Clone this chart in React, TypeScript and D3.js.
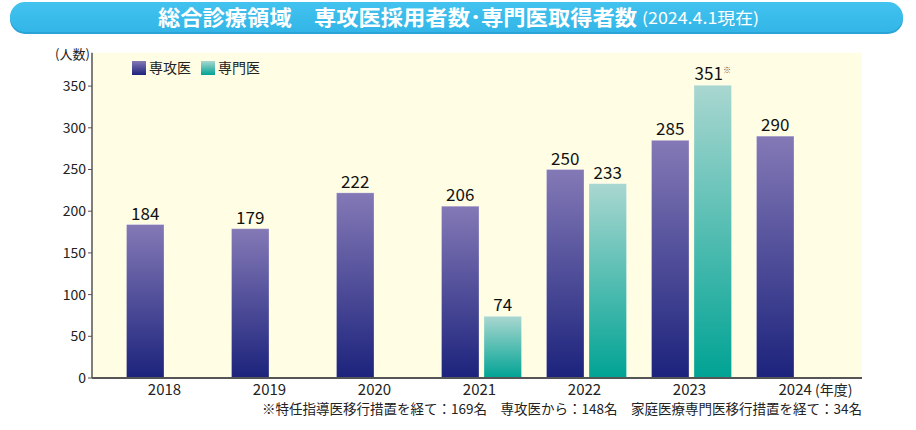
import React from "react";
import * as d3 from "d3";

const years = ["2018", "2019", "2020", "2021", "2022", "2023", "2024"];
const seriesNames = ["専攻医", "専門医"];
const residents = [184, 179, 222, 206, 250, 285, 290];
const specialists: (number | null)[] = [null, null, null, 74, 233, 351, null];
const yTicks = [0, 50, 100, 150, 200, 250, 300, 350];
const titleMain = "総合診療領域　専攻医採用者数･専門医取得者数";
const titleSub = "(2024.4.1現在)";
const footnote = "※特任指導医移行措置を経て：169名　専攻医から：148名　家庭医療専門医移行措置を経て：34名";

const W = 916;
const H = 430;
const FONT = "'Noto Sans CJK JP', 'Noto Sans', sans-serif";

export default function App() {
  const plotLeft = 92;
  const plotRight = 862;
  const plotBottom = 378;

  const x = d3
    .scaleBand<string>()
    .domain(years)
    .range([plotLeft + 22, plotRight - 13])
    .paddingInner(0.238)
    .paddingOuter(0.119);
  const xs = d3
    .scaleBand<string>()
    .domain(seriesNames)
    .range([0, x.bandwidth()])
    .paddingInner(0.118);
  const y = d3.scaleLinear().domain([0, 390]).range([plotBottom, plotBottom - 390 * 0.834]);
  const plotTop = y(390);

  const series = [
    { name: seriesNames[0], values: residents as (number | null)[], grad: "url(#gPurple)" },
    { name: seriesNames[1], values: specialists, grad: "url(#gTeal)" },
  ];

  return (
    <svg
      width={W}
      height={H}
      style={{ position: "absolute", left: 0, top: 0, fontFamily: FONT }}
    >
      <defs>
        <linearGradient id="gPurple" x1="0" y1="0" x2="0" y2="1">
          <stop offset="0" stopColor="#8479b6" />
          <stop offset="1" stopColor="#1c237c" />
        </linearGradient>
        <linearGradient id="gTeal" x1="0" y1="0" x2="0" y2="1">
          <stop offset="0" stopColor="#a9d7d0" />
          <stop offset="1" stopColor="#00a394" />
        </linearGradient>
        <linearGradient id="gBanner" x1="0" y1="0" x2="0" y2="1">
          <stop offset="0" stopColor="#42c2ef" />
          <stop offset="1" stopColor="#33b6e7" />
        </linearGradient>
      </defs>
      <rect width={W} height={H} fill="#ffffff" />

      {/* Title banner */}
      <rect x={10} y={4} width={893} height={30} rx={15} fill="#2aa3d6" />
      <rect x={10} y={2} width={893} height={30} rx={15} fill="url(#gBanner)" />
      <text x={158} y={25} fontSize={21} fontWeight="bold" fill="#fff" textLength={479} lengthAdjust="spacingAndGlyphs">
        {titleMain}
      </text>
      <text x={642} y={24} fontSize={16} fill="#fff" textLength={117} lengthAdjust="spacingAndGlyphs">
        {titleSub}
      </text>

      {/* Plot background */}
      <rect x={plotLeft} y={plotTop} width={plotRight - plotLeft} height={plotBottom - plotTop} fill="#fffde4" />

      {/* Bars */}
      {series.map((s) =>
        years.map((yr, i) => {
          const v = s.values[i];
          if (v == null) return null;
          const bx = (x(yr) ?? 0) + (xs(s.name) ?? 0);
          return (
            <g key={s.name + yr}>
              <rect
                x={bx}
                y={y(v)}
                width={xs.bandwidth()}
                height={y(0) - y(v)}
                fill={s.grad}
                stroke="#ffffff"
                strokeOpacity={0.35}
                strokeWidth={0.8}
              />
              <text x={bx + xs.bandwidth() / 2} y={y(v) - 5} textAnchor="middle" fontSize={17} fill="#111">
                {v}
                {s.name === seriesNames[1] && v === 351 ? (
                  <tspan fontSize={8} dy={-7} fill="#555">※</tspan>
                ) : null}
              </text>
            </g>
          );
        })
      )}

      {/* Axes */}
      <line x1={plotLeft} x2={plotLeft} y1={plotTop} y2={plotBottom} stroke="#555" strokeWidth={1.5} />
      <line x1={plotLeft} x2={plotRight} y1={plotBottom} y2={plotBottom} stroke="#555" strokeWidth={2} />
      {yTicks.map((t) => (
        <g key={t}>
          <line x1={plotLeft - 4} x2={plotLeft} y1={y(t)} y2={y(t)} stroke="#555" strokeWidth={1} />
          <text x={86} y={y(t)} dy="0.35em" textAnchor="end" fontSize={14} fill="#222">
            {t}
          </text>
        </g>
      ))}
      <text x={55} y={59} fontSize={13} fill="#222">(人数)</text>

      {years.map((yr, i) => {
        const cx = (x(yr) ?? 0) + x.bandwidth() / 2 - 2;
        const last = i === years.length - 1;
        return last ? (
          <text key={yr} x={cx - 16} y={395} fontSize={15} fill="#222">
            {yr}
            <tspan fontSize={14}> (年度)</tspan>
          </text>
        ) : (
          <text key={yr} x={cx} y={395} textAnchor="middle" fontSize={15} fill="#222">
            {yr}
          </text>
        );
      })}

      {/* Legend */}
      <rect x={132} y={61} width={14} height={14} fill="url(#gPurple)" />
      <text x={149} y={73} fontSize={14} fill="#222">{seriesNames[0]}</text>
      <rect x={201} y={61} width={14} height={14} fill="url(#gTeal)" />
      <text x={218} y={73} fontSize={14} fill="#222">{seriesNames[1]}</text>

      {/* Footnote */}
      <text x={862} y={414} textAnchor="end" fontSize={13.5} fill="#222">
        {footnote}
      </text>
    </svg>
  );
}
